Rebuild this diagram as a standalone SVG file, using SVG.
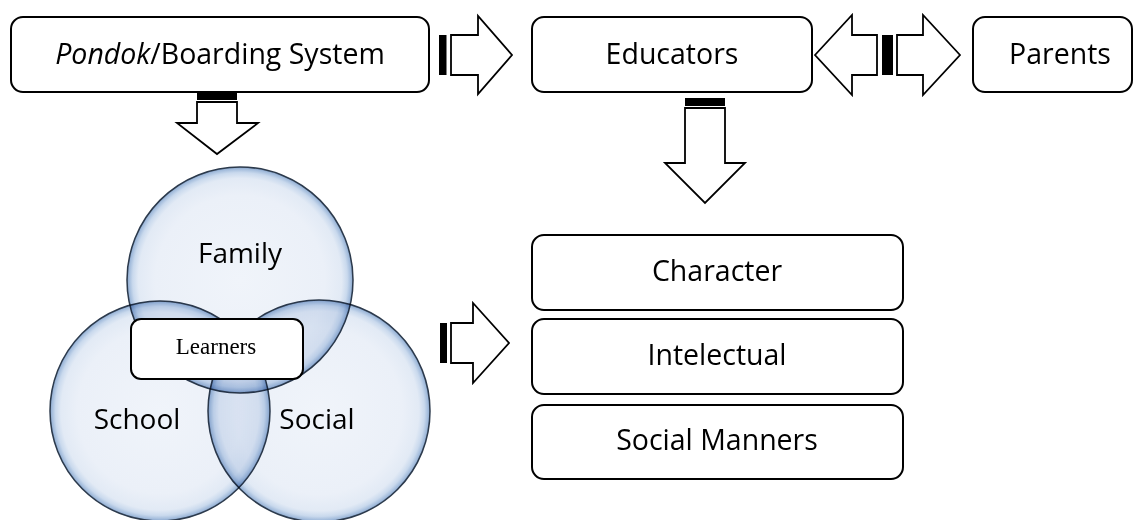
<svg xmlns="http://www.w3.org/2000/svg" width="1138" height="520" viewBox="0 0 1138 520">
<style>
.box{fill:#fff;stroke:#000;stroke-width:2}
.arr{fill:#fff;stroke:#000;stroke-width:1.8;stroke-linejoin:miter}
.bar{fill:#000}
.t{font-family:"Open Sans","Liberation Sans",sans-serif;font-size:28.5px;fill:#000;text-anchor:middle}
.c{font-family:"Open Sans","Liberation Sans",sans-serif;font-size:28px;fill:#000;text-anchor:middle}
.s{font-family:"Liberation Serif","DejaVu Serif",serif;font-size:23px;fill:#000;text-anchor:middle}
.bub{fill:url(#bubble);stroke:#2c3a4c;stroke-width:1.5;mix-blend-mode:multiply}
</style>
<defs>
<radialGradient id="bubble" cx="0.5" cy="0.5" r="0.5">
<stop offset="0" stop-color="#f0f4fa"/>
<stop offset="0.75" stop-color="#ebf0f8"/>
<stop offset="0.9" stop-color="#e2eaf5"/>
<stop offset="0.95" stop-color="#c9d9ed"/>
<stop offset="0.985" stop-color="#9fb9da"/>
<stop offset="1" stop-color="#7b97bd"/>
</radialGradient>
</defs>
<rect width="1138" height="520" fill="#fff"/>

<g id="venn">
<circle class="bub" cx="240" cy="280" r="113"/>
<circle class="bub" cx="160" cy="411" r="110"/>
<circle class="bub" cx="319" cy="411" r="111"/>
</g>
<g id="family"><text class="c" x="240" y="263">Family</text></g>
<g id="school"><text class="c" x="137" y="429">School</text></g>
<g id="social"><text class="c" x="317" y="429">Social</text></g>
<g id="learners">
<rect class="box" x="131" y="319" width="172" height="60" rx="10" stroke-width="2.5"/>
<text class="s" x="216" y="354">Learners</text>
</g>

<g id="pondok">
<rect class="box" x="11" y="17" width="418" height="75" rx="12"/>
<text class="t" x="220" y="64"><tspan font-style="italic">Pondok</tspan>/Boarding System</text>
</g>
<g id="educators">
<rect class="box" x="532" y="17" width="280" height="75" rx="12"/>
<text class="t" x="672" y="64">Educators</text>
</g>
<g id="parents">
<rect class="box" x="973" y="17" width="159" height="75" rx="12"/>
<text class="t" x="1060" y="64">Parents</text>
</g>
<g id="character">
<rect class="box" x="532" y="235" width="371" height="75" rx="12"/>
<text class="t" x="717" y="281">Character</text>
</g>
<g id="intelectual">
<rect class="box" x="532" y="319" width="371" height="75" rx="12"/>
<text class="t" x="717" y="365">Intelectual</text>
</g>
<g id="manners">
<rect class="box" x="532" y="405" width="371" height="74" rx="12"/>
<text class="t" x="717" y="450">Social Manners</text>
</g>

<g id="connectors">
<rect class="bar" x="439" y="35" width="7.5" height="40"/>
<polygon class="arr" points="451,35 478,35 478,16 512,55 478,94 478,75 451,75"/>
<polygon class="arr" points="815,55 852,15 852,35 877,35 877,75 852,75 852,95"/>
<rect class="bar" x="882" y="35" width="11" height="40"/>
<polygon class="arr" points="960,55 923,15 923,35 897,35 897,75 923,75 923,95"/>
<rect class="bar" x="197" y="93" width="40" height="7"/>
<polygon class="arr" points="197,102 237,102 237,123 258,123 217,154 177,123 197,123"/>
<rect class="bar" x="685" y="98" width="40" height="8"/>
<polygon class="arr" points="685,108 725,108 725,163 745,163 705,203 665,163 685,163"/>
<rect class="bar" x="440" y="323" width="7" height="40"/>
<polygon class="arr" points="451,323 473,323 473,303 509,343 473,383 473,363 451,363"/>
</g>
</svg>
